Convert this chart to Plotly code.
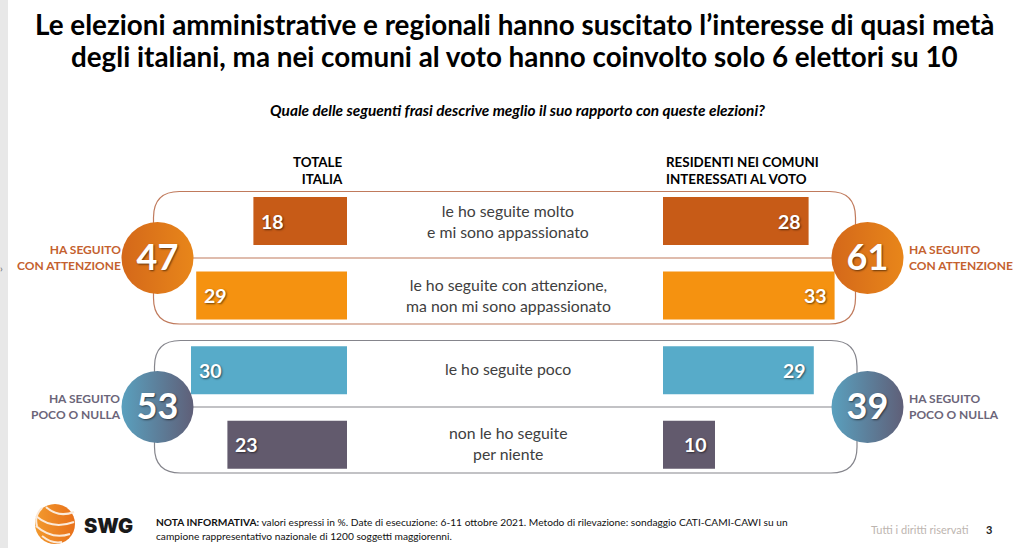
import plotly.graph_objects as go

W, H = 1016, 548
FONT = "Lato"

rows = ["molto", "attenzione", "poco", "niente"]
row_labels = ["le ho seguite molto<br>e mi sono appassionato",
              "le ho seguite con attenzione,<br>ma non mi sono appassionato",
              "le ho seguite poco",
              "non le ho seguite<br>per niente"]
totale_italia = [18, 29, 30, 23]
residenti = [28, 33, 29, 10]
bar_colors = ["#C75B17", "#F59210", "#57ABC9", "#625A6D"]

sum_left = [47, 53]
sum_right = [61, 39]
sum_labels = ["HA SEGUITO<br>CON ATTENZIONE", "HA SEGUITO<br>POCO O NULLA"]
sum_colors = ["#C4612F", "#6B6579"]
circle_from = ["#D4681A", "#5AA0BE"]
circle_to = ["#E8861A", "#5F5F78"]
box_colors = ["#C07A5C", "#85858C"]

# pixel layout helpers
PX_PER_UNIT = 5.2
ROW0, ROW_STEP = 221.0, 74.6
y_range = [(H - ROW0) / ROW_STEP, -ROW0 / ROW_STEP]
LEFT_ZERO, RIGHT_ZERO = 347, 663

shadow = "1px 1px 2px rgba(0,0,0,0.55)"
fig = go.Figure()

fig.add_trace(go.Bar(y=rows, x=totale_italia, orientation="h", xaxis="x", yaxis="y",
                     marker=dict(color=bar_colors, line_width=0), hoverinfo="skip"))
fig.add_trace(go.Bar(y=rows, x=residenti, orientation="h", xaxis="x2", yaxis="y2",
                     marker=dict(color=bar_colors, line_width=0), hoverinfo="skip"))

# summary circles, on a pixel overlay
centers_y = [258, 407]
for side_x, vals in ((157.5, sum_left), (867.5, sum_right)):
    fig.add_trace(go.Scatter(
        x=[side_x, side_x], y=centers_y, mode="markers", xaxis="x3", yaxis="y3",
        marker=dict(size=72, color=circle_from, line_width=0,
                    gradient=dict(type="horizontal", color=circle_to)),
        hoverinfo="skip"))
    fig.add_trace(go.Scatter(
        x=[side_x, side_x], y=[c + 2.5 for c in centers_y], mode="text", xaxis="x3", yaxis="y3",
        text=[str(v) for v in vals], textposition="middle center",
        textfont=dict(family=FONT, size=36, color="white", weight=700, shadow=shadow),
        hoverinfo="skip"))

# logo globe
fig.add_trace(go.Scatter(x=[55], y=[524], mode="markers", xaxis="x3", yaxis="y3",
                         marker=dict(size=40, color="#F29A2E", line_width=0,
                                     gradient=dict(type="horizontal", color="#E8701A")),
                         hoverinfo="skip"))

def rrect(x0, y0, x1, y1, r=26):
    return (f"M{x0+r},{y0} L{x1-r},{y0} Q{x1},{y0} {x1},{y0+r} L{x1},{y1-r} Q{x1},{y1} {x1-r},{y1} "
            f"L{x0+r},{y1} Q{x0},{y1} {x0},{y1-r} L{x0},{y0+r} Q{x0},{y0} {x0+r},{y0} Z")

shapes = [
    dict(type="rect", xref="x3", yref="y3", x0=0, x1=8, y0=0, y1=H,
         fillcolor="#E8E8E8", line_width=0, layer="below"),
]
for (x0, y0, x1, y1, mid), c in zip([(153.5, 191.5, 855.5, 324, 258), (154.5, 340.5, 857, 473, 407)], box_colors):
    shapes.append(dict(type="path", xref="x3", yref="y3", path=rrect(x0, y0, x1, y1),
                       line=dict(color=c, width=1.2), layer="below"))
    shapes.append(dict(type="line", xref="x3", yref="y3", x0=x0, x1=x1, y0=mid, y1=mid,
                       line=dict(color=c, width=1.2), layer="below"))
# logo stripes
for d in ["M36,516 Q52,530 74,522", "M36,526 Q52,540 70,534", "M42,536 Q52,544 62,542",
          "M42,508 Q34,516 37,526 ", "M46,507 Q58,518 74,512"]:
    shapes.append(dict(type="path", xref="x3", yref="y3", path=d,
                       line=dict(color="#FBE9D8", width=2), layer="above"))

def px_ann(x, y, text, size, color="#000000", anchor="center", weight=400, style="normal", family=FONT):
    return dict(xref="x3", yref="y3", x=x, y=y, text=text, showarrow=False, xanchor=anchor, yanchor="middle",
                align=anchor if anchor != "center" else "center",
                font=dict(family=family, size=size, color=color, weight=weight, style=style))

anns = [
    px_ann(514, 24, "Le elezioni amministrative e regionali hanno suscitato l’interesse di quasi metà", 27.8, weight=700),
    px_ann(514, 56, "degli italiani, ma nei comuni al voto hanno coinvolto solo 6 elettori su 10", 27.8, weight=700),
    px_ann(517, 110, "Quale delle seguenti frasi descrive meglio il suo rapporto con queste elezioni?", 15.4,
           weight=700, style="italic"),
    px_ann(344.5, 170.5, "TOTALE<br>ITALIA", 13.4, anchor="right", weight=700),
    px_ann(664, 170.5, "RESIDENTI NEI COMUNI<br>INTERESSATI AL VOTO", 13.4, anchor="left", weight=700),
    px_ann(1, 268, "›", 10, color="#666666"),
    px_ann(81.5, 526, "SWG", 20, color="#1A1A1A", anchor="left", weight=900, family="Inter"),
    px_ann(154, 522, "<b>NOTA INFORMATIVA:</b> valori espressi in %. Date di esecuzione: 6-11 ottobre 2021. "
                     "Metodo di rilevazione: sondaggio CATI-CAMI-CAWI su un", 10.2, color="#111111", anchor="left"),
    px_ann(154, 536, "campione rappresentativo nazionale di 1200 soggetti maggiorenni.", 10.2, color="#111111", anchor="left"),
    px_ann(869, 529, "Tutti i diritti riservati", 11, color="#BDB5B0", anchor="left"),
    px_ann(989, 529, "3", 11, color="#222222", weight=700),
]
# centre labels
for cat, lab, dy in zip(rows, row_labels, [0, 1, 2, 2]):
    anns.append(dict(xref="paper", yref="y", x=0.5, y=cat, yshift=dy, text=lab, showarrow=False,
                     align="center", font=dict(family=FONT, size=15.8, color="#404040")))
# bar values
for cat, v in zip(rows, totale_italia):
    anns.append(dict(xref="x", yref="y", x=v, y=cat, text=str(v), showarrow=False, xanchor="left", xshift=6,
                     font=dict(family=FONT, size=19.5, color="white", weight=700, shadow=shadow)))
for cat, v in zip(rows, residenti):
    anns.append(dict(xref="x2", yref="y2", x=v, y=cat, text=str(v), showarrow=False, xanchor="right", xshift=-6,
                     font=dict(family=FONT, size=19.5, color="white", weight=700, shadow=shadow)))
# side labels
for y, lab, c in zip(centers_y, sum_labels, sum_colors):
    anns.append(px_ann(123, y - 1, lab, 12, color=c, anchor="right", weight=700))
    anns.append(px_ann(907, y - 1, lab, 12, color=c, anchor="left", weight=700))

hidden = dict(visible=False, fixedrange=True)
cat_axis = dict(type="category", categoryorder="array", categoryarray=rows, range=y_range, domain=[0, 1], **hidden)
fig.update_layout(
    width=W, height=H, autosize=False,
    margin=dict(l=0, r=0, t=0, b=0),
    paper_bgcolor="white", plot_bgcolor="rgba(0,0,0,0)",
    showlegend=False, bargap=1 - 48 / ROW_STEP,
    xaxis=dict(domain=[0, LEFT_ZERO / W], range=[LEFT_ZERO / PX_PER_UNIT, 0], anchor="y", **hidden),
    yaxis=dict(anchor="x", **cat_axis),
    xaxis2=dict(domain=[RIGHT_ZERO / W, 1], range=[0, (W - RIGHT_ZERO) / PX_PER_UNIT], anchor="y2", **hidden),
    yaxis2=dict(anchor="x2", **cat_axis),
    xaxis3=dict(domain=[0, 1], range=[0, W], anchor="y3", **hidden),
    yaxis3=dict(domain=[0, 1], range=[H, 0], anchor="x3", **hidden),
    shapes=shapes, annotations=anns,
)
fig.write_html("out.html", config=dict(displayModeBar=False),
               post_script="document.body.style.margin='0';document.documentElement.style.overflow='hidden';")
